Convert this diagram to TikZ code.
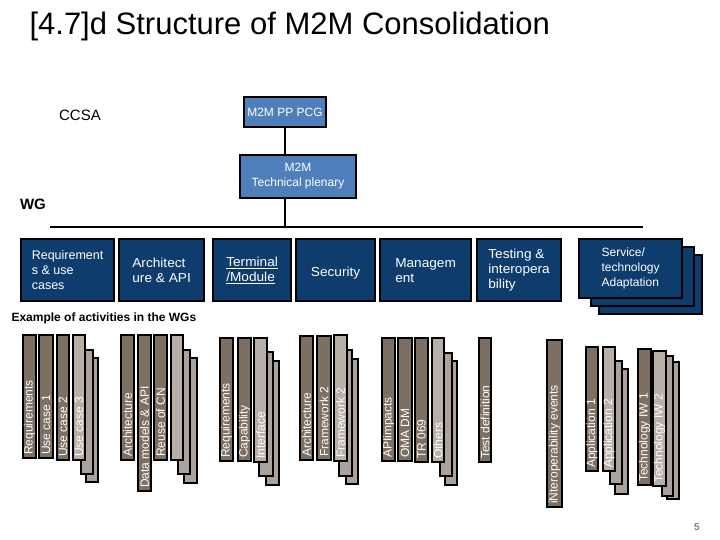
\documentclass[tikz,border=0pt]{standalone}
\usepackage{fontspec}
\setmainfont{Liberation Sans}
\usepackage{graphicx}
\definecolor{dk}{HTML}{7D6F62}
\definecolor{lt}{HTML}{B8AFA6}
\definecolor{bk}{HTML}{ABA39B}
\definecolor{navy}{HTML}{0E3C6C}
\definecolor{midb}{HTML}{4F7FBA}
\newcommand{\wdx}[1]{\scalebox{1.05}[1]{#1}}
\newcommand{\mybar}[7]{%
  \path[draw=black,line width=2.2pt,fill=#6] (#2,#3) rectangle (#4,#5);
  \node[bartxt] (#1) at ({(#2+#4)/2},{#5-3}) {#7};}
\tikzset{
  bartxt/.style={rotate=90,anchor=west,text=white,inner sep=0pt,font=\fontsize{12}{13}\selectfont},
  wg/.style={draw=black,line width=2.2pt,fill=navy,text=white,anchor=north west,align=left,inner sep=3pt,font=\fontsize{13}{15}\selectfont},
  top/.style={draw=black,line width=2.2pt,fill=midb,text=white,align=center,font=\fontsize{12}{15}\selectfont},
  conn/.style={line width=2pt}
}
\begin{document}
\begin{tikzpicture}[x=1pt,y=-1pt]
\useasboundingbox (0,0) rectangle (720,540);
\node[anchor=west,font=\fontsize{31}{33}\selectfont] (title) at (26,26) {[4.7]d Structure of M2M Consolidation};
\node[font=\fontsize{15}{16}\selectfont] (ccsa) at (80,115) {CCSA};
\node[font=\bfseries\fontsize{15}{16}\selectfont] (wgl) at (33,204) {WG};
\node[top,minimum width=64pt,minimum height=30pt] (pcg) at (285,112) {M2M PP PCG};
\node[top,minimum width=116pt,minimum height=43pt] (tp) at (298,176.5) {M2M\\Technical plenary};
\coordinate (hl) at (50,227); \coordinate (hr) at (643,227);
\draw[conn] (pcg) -- (pcg|-tp.north);
\draw[conn] (tp.south-|pcg) -- (hl-|pcg);
\draw[conn] (hl) -- (hr);
% WG boxes
\node[wg,minimum width=103pt,minimum height=59pt] (w7b) at (598,254) {};
\node[wg,minimum width=103pt,minimum height=59pt] (w7a) at (590,246) {};
\node[wg,minimum width=93pt,minimum height=62pt,font=\fontsize{12.5}{15}\selectfont] (w1) at (20,238) {Requirement\\s \& use\\cases};
\node[wg,minimum width=85pt,minimum height=62pt] (w2) at (118,238) {\wdx{Architect}\\\wdx{ure \& API}};
\node[wg,minimum width=78pt,minimum height=62pt] (w3) at (212,238) {\wdx{\underline{Terminal}}\\\wdx{\underline{/Module}}};
\node[wg,minimum width=79pt,minimum height=62pt] (w4) at (295,238) {\\\wdx{Security}};
\node[wg,minimum width=91pt,minimum height=62pt] (w5) at (379,238) {\wdx{Managem}\\\wdx{ent}};
\node[wg,minimum width=84pt,minimum height=62pt] (w6) at (476,238) {\wdx{Testing \&}\\\wdx{interopera}\\\wdx{bility}};
\node[wg,minimum width=103pt,minimum height=59pt,font=\fontsize{12}{15}\selectfont] (w7) at (578,238) {Service/\\technology\\Adaptation};
\node[anchor=west,font=\bfseries\fontsize{12}{13}\selectfont] (ex) at (8,318) {Example of activities in the WGs};
% group 1
\mybar{a4}{86}{358}{98}{482}{bk}{}
\mybar{a3}{81}{350}{93}{474}{bk}{}
\mybar{a1}{23}{335}{36}{458}{dk}{Requirements}
\mybar{a2}{39}{335}{53}{458}{dk}{Use case 1}
\mybar{a5}{57}{335}{69}{460}{dk}{Use case 2}
\mybar{a6}{73}{335}{85}{460}{lt}{Use case 3}
% group 2
\mybar{b1}{184}{358}{197}{483}{bk}{}
\mybar{b2}{178}{350}{190}{474}{bk}{}
\mybar{b3}{121}{335}{134}{460}{dk}{Architecture}
\mybar{b4}{138}{335}{151}{491}{dk}{Data models \& API}
\mybar{b5}{154}{335}{167}{460}{dk}{Reuse of CN}
\mybar{b6}{171}{335}{183}{460}{lt}{}
% group 3
\mybar{c1}{266}{361}{279}{485}{bk}{}
\mybar{c2}{259}{352}{273}{476}{bk}{}
\mybar{c3}{220}{338}{233}{461}{dk}{Requirements}
\mybar{c4}{238}{338}{251}{461}{dk}{Capability}
\mybar{c5}{254}{338}{267}{462}{lt}{Interface}
% group 4
\mybar{d1}{346}{359}{358}{484}{bk}{}
\mybar{d2}{339}{350}{352}{476}{bk}{}
\mybar{d3}{300}{336}{313}{460}{dk}{Architecture}
\mybar{d4}{317}{336}{331}{460}{dk}{Framework 2}
\mybar{d5}{334}{335}{347}{461}{lt}{Framework 2}
% group 5
\mybar{e1}{445}{361}{457}{485}{bk}{}
\mybar{e2}{440}{353}{452}{476}{bk}{}
\mybar{e3}{382}{338}{395}{461}{dk}{APIimpacts}
\mybar{e4}{398}{338}{412}{461}{dk}{OMA DM}
\mybar{e5}{415}{338}{428}{462}{dk}{TR 069}
\mybar{e6}{432}{338}{444}{462}{lt}{Others}
% group 6
\mybar{f1}{479}{338}{491}{462}{dk}{Test definition}
\mybar{f2}{547}{340}{562}{507}{dk}{iNteroperability events}
% group 7
\mybar{g1}{615}{369}{628}{494}{bk}{}
\mybar{g2}{610}{361}{622}{484}{bk}{}
\mybar{g3}{586}{347}{598}{471}{dk}{Application 1}
\mybar{g4}{603}{347}{615}{471}{lt}{Application 2}
% group 8
\mybar{h1}{667}{362}{679}{499}{bk}{}
\mybar{h2}{662}{356}{673}{496}{bk}{}
\mybar{h3}{638}{349}{651}{485}{dk}{Technology IW 1}
\mybar{h4}{653}{351}{666}{486}{lt}{Technology IW 2}
\node[text=gray,font=\bfseries\fontsize{10}{11}\selectfont] (pg) at (697,527) {5};
\end{tikzpicture}
\end{document}
